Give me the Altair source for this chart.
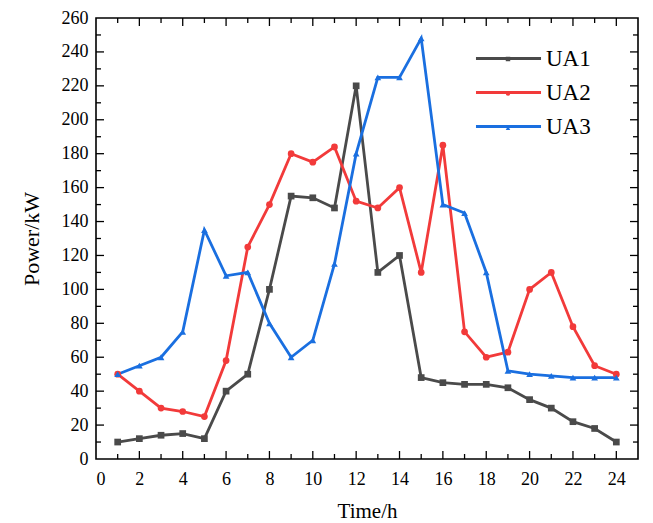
import altair as alt
import pandas as pd

hours = list(range(1, 25))
ua1 = [10, 12, 14, 15, 12, 40, 50, 100, 155, 154, 148, 220, 110, 120, 48, 45, 44, 44, 42, 35, 30, 22, 18, 10]
ua2 = [50, 40, 30, 28, 25, 58, 125, 150, 180, 175, 184, 152, 148, 160, 110, 185, 75, 60, 63, 100, 110, 78, 55, 50]
ua3 = [50, 55, 60, 75, 135, 108, 110, 80, 60, 70, 115, 180, 225, 225, 248, 150, 145, 110, 52, 50, 49, 48, 48, 48]
series = ["UA1", "UA2", "UA3"]
colors = ["#4a4a4a", "#f23a3a", "#1a6fe0"]
shapes = ["square", "circle", "triangle-up"]
x_labels = list(range(0, 25, 2))
y_labels = list(range(0, 261, 20))
x_minor = list(range(1, 25))
y_minor = list(range(10, 260, 10))

W, H = 542, 441
FONT = "Times New Roman"

rows = []
for name, vals in zip(series, [ua1, ua2, ua3]):
    for h, v in zip(hours, vals):
        rows.append({"hour": h, "power": v, "series": name, "series2": name})
df = pd.DataFrame(rows)

xscale = alt.Scale(domain=[0, 25], nice=False, zero=False)
yscale = alt.Scale(domain=[0, 260], nice=False)
x_axis = alt.Axis(values=x_labels, ticks=False, domain=False, grid=False,
                  labelFont=FONT, labelFontSize=18, labelColor="black", labelPadding=11,
                  title="Time/h", titleFont=FONT, titleFontSize=21, titleFontWeight="normal",
                  titleColor="black", titlePadding=12)
y_axis = alt.Axis(values=y_labels, ticks=False, domain=False, grid=False,
                  labelFont=FONT, labelFontSize=18, labelColor="black", labelPadding=8,
                  title="Power/kW", titleFont=FONT, titleFontSize=22, titleFontWeight="normal",
                  titleColor="black", titlePadding=18)

X = alt.X("hour:Q", scale=xscale, axis=x_axis)
Y = alt.Y("power:Q", scale=yscale, axis=y_axis)

lines = alt.Chart(df).mark_line(strokeWidth=2.8).encode(
    x=X, y=Y,
    color=alt.Color("series:N", scale=alt.Scale(domain=series, range=colors),
                    legend=alt.Legend(orient="none", legendX=400, legendY=28, title=None,
                                      symbolType="M-3,0H3", symbolSize=470, symbolStrokeWidth=3,
                                      labelFont=FONT, labelFontSize=23, labelColor="black",
                                      labelOffset=25, rowPadding=9)),
    detail="series:N",
)
pt_legend = alt.Legend(orient="none", legendX=407, legendY=36, title=None,
                       symbolSize=20, labelExpr="''", rowPadding=24.5)
points = alt.Chart(df).mark_point(filled=True, size=45, opacity=1).encode(
    x=X, y=Y,
    color=alt.Color("series2:N", scale=alt.Scale(domain=series, range=colors), legend=pt_legend),
    shape=alt.Shape("series2:N", scale=alt.Scale(domain=series, range=shapes), legend=pt_legend),
)


def xticks(vals, length, top):
    d = pd.DataFrame({"hour": vals})
    if top:
        yy, yy2 = alt.value(0), alt.value(length)
    else:
        yy, yy2 = alt.value(H), alt.value(H - length)
    return alt.Chart(d).mark_rule(color="black", strokeWidth=1.3).encode(x=X, y=yy, y2=yy2)


def yticks(vals, length, right):
    d = pd.DataFrame({"power": vals})
    if right:
        xx, xx2 = alt.value(W), alt.value(W - length)
    else:
        xx, xx2 = alt.value(0), alt.value(length)
    return alt.Chart(d).mark_rule(color="black", strokeWidth=1.3).encode(y=Y, x=xx, x2=xx2)


ticks = [
    xticks(x_labels[1:], 8, False), xticks([h for h in x_minor if h % 2], 5, False),
    xticks(x_labels[1:], 8, True), xticks([h for h in x_minor if h % 2], 5, True),
    yticks(y_labels[1:-1], 8, False), yticks([v for v in y_minor if v % 20], 5, False),
    yticks(y_labels[1:-1], 8, True), yticks([v for v in y_minor if v % 20], 5, True),
]

chart = alt.layer(lines, points, *ticks).resolve_scale(
    color="independent", shape="independent"
).properties(
    width=W, height=H,
    autosize=alt.AutoSizeParams(type="none"),
    padding={"left": 96, "top": 18, "right": 15, "bottom": 64},
    background="white",
).configure_view(stroke="black", strokeWidth=1.6)

chart.save("out.html", embed_options={"renderer": "svg", "actions": False})
